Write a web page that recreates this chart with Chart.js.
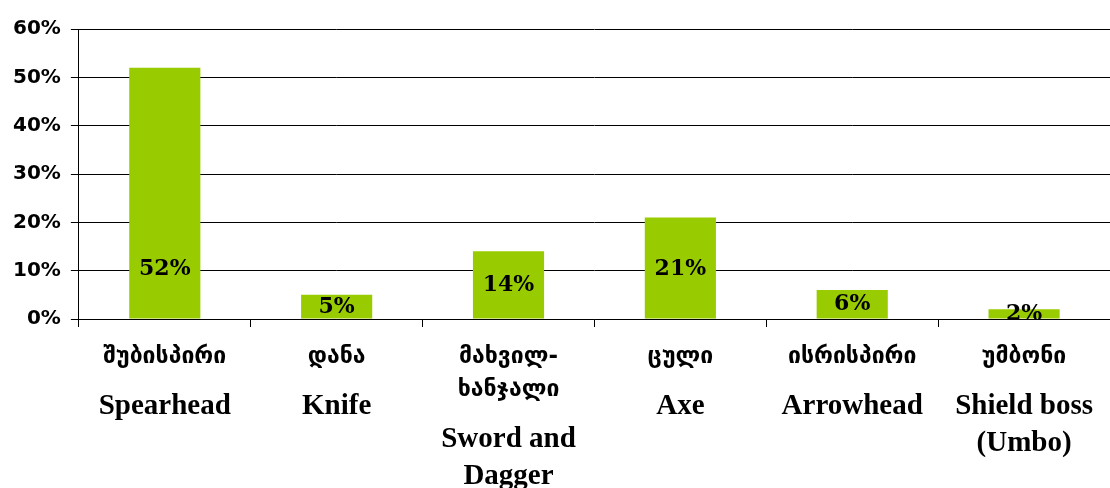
<!DOCTYPE html>
<html>
<head>
<meta charset="utf-8">
<script src="https://cdn.jsdelivr.net/npm/chart.js@4.4.1/dist/chart.umd.min.js"></script>
<style>
  html, body { margin: 0; padding: 0; background: #fff; }
  #wrap { width: 1110px; height: 488px; position: relative; }
</style>
</head>
<body>
<div id="wrap"><canvas id="weaponchart"></canvas></div>
<script>
const canvasId = 'weaponchart';

// labels, georgian + english
const georgianLabels = [['შუბისპირი'], ['დანა'], ['მახვილ-', 'ხანჯალი'], ['ცული'], ['ისრისპირი'], ['უმბონი']];
const englishLabels = [['Spearhead'], ['Knife'], ['Sword and', 'Dagger'], ['Axe'], ['Arrowhead'], ['Shield boss', '(Umbo)']];
const shares = [52, 5, 14, 21, 6, 2];
const yMax = 60;
const yStep = 10;

const categoryLabels = englishLabels.map(function(l) { return l.join(' '); });

// draws the two-language labels under the axis
const bilingualLabels = {
    id: 'bilingualLabels',
    afterDraw: function(chart) {
        var ctx = chart.ctx;
        var xScale = chart.scales.x;
        var top = chart.chartArea.bottom + 38;
        ctx.save();
        ctx.fillStyle = '#000';
        ctx.textAlign = 'center';
        ctx.textBaseline = 'middle';
        for (var i = 0; i < georgianLabels.length; i++) {
            var x = xScale.getPixelForValue(i);
            var y = top;
            ctx.font = 'bold 23px "DejaVu Sans"';
            georgianLabels[i].forEach(function(line, k) {
                if (k > 0) y += 33;
                ctx.fillText(line, x, y);
            });
            y += 50;
            ctx.font = 'bold 29px "Liberation Serif"';
            englishLabels[i].forEach(function(line, k) {
                if (k > 0) y += 37;
                ctx.fillText(line, x, y);
            });
        }
        ctx.restore();
    }
};

// value labels inside bars
const valueLabels = {
    id: 'valueLabels',
    afterDatasetsDraw: function(chart) {
        var ctx = chart.ctx;
        var meta = chart.getDatasetMeta(0);
        var yScale = chart.scales.y;
        ctx.save();
        ctx.fillStyle = '#000';
        ctx.font = 'bold 22px "DejaVu Serif"';
        ctx.textAlign = 'center';
        ctx.textBaseline = 'middle';
        meta.data.forEach(function(bar, i) {
            var v = shares[i];
            var y = yScale.getPixelForValue(Math.min(v / 2, 10.2));
            ctx.fillText(v + '%', bar.x, y);
        });
        ctx.restore();
    }
};

var ctx = document.getElementById(canvasId).getContext('2d');
window[canvasId] = new Chart(ctx, {
    type: 'bar',
    data: {
        labels: categoryLabels,
        datasets: [{
            data: shares,
            backgroundColor: '#99cc00',
            borderWidth: 0,
            barPercentage: 0.9,
            categoryPercentage: 0.46
        }]
    },
    options: {
        responsive: true,
        maintainAspectRatio: false,
        animation: false,
        layout: {
            padding: { top: 29, right: 0, bottom: 161, left: 3 }
        },
        plugins: {
            legend: { display: false },
            tooltip: { enabled: false }
        },
        scales: {
            x: {
                offset: true,
                grid: {
                    offset: true,
                    drawOnChartArea: false,
                    drawTicks: true,
                    tickLength: 8,
                    color: '#000',
                    lineWidth: 1
                },
                border: { display: true, color: '#000', width: 1 },
                ticks: { display: false }
            },
            y: {
                min: 0,
                max: yMax,
                ticks: {
                    stepSize: yStep,
                    padding: 10,
                    color: '#000',
                    font: { family: 'DejaVu Sans', weight: 'bold', size: 20 },
                    callback: function(v) { return v + '%'; }
                },
                grid: {
                    color: '#000',
                    lineWidth: 1,
                    tickLength: 8
                },
                border: { display: true, color: '#000', width: 1 }
            }
        }
    },
    plugins: [bilingualLabels, valueLabels]
});
</script>
</body>
</html>
